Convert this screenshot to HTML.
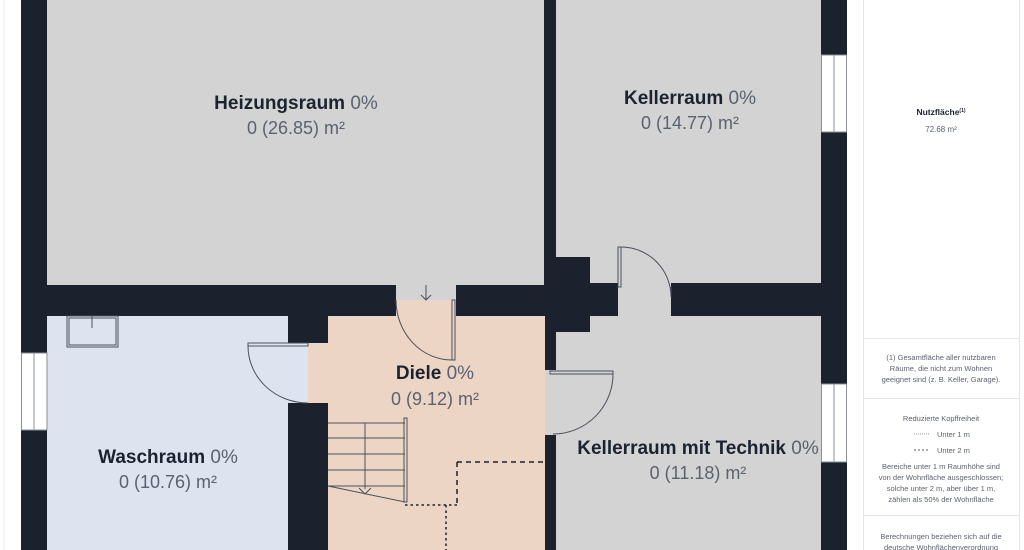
<!DOCTYPE html>
<html><head><meta charset="utf-8"><style>
html,body{margin:0;padding:0;background:#fff;}
svg{display:block;font-family:"Liberation Sans",sans-serif;}
.t{font-weight:bold;fill:#1c2330;font-size:19px;}
.p{fill:#5b6270;font-weight:normal;}
.a{fill:#5b6270;font-size:18px;}
.s{fill:#5b6270;font-size:7.5px;}
</style></head><body>
<svg width="1024" height="550" viewBox="0 0 1024 550" xmlns="http://www.w3.org/2000/svg">
<rect width="1024" height="550" fill="#fff"/>
<line x1="4" y1="0" x2="4" y2="550" stroke="#eee"/>
<!-- walls background -->
<rect x="21" y="0" width="826" height="550" fill="#1b222d"/>
<!-- rooms -->
<rect x="47" y="0" width="497" height="285" fill="#d3d3d3"/>
<rect x="556" y="0" width="265" height="283" fill="#d3d3d3"/>
<rect x="47" y="316" width="241" height="234" fill="#dde3ef"/>
<rect x="328" y="316" width="217" height="234" fill="#edd5c6"/>
<rect x="308" y="343" width="20" height="60" fill="#edd5c6"/>
<rect x="288" y="343" width="20" height="60" fill="#dde3ef"/>
<rect x="556" y="316" width="265" height="234" fill="#d3d3d3"/>
<rect x="545" y="370" width="11" height="65" fill="#d3d3d3"/>
<rect x="618" y="283" width="53" height="33" fill="#d3d3d3"/>
<rect x="396" y="285" width="60" height="15" fill="#d3d3d3"/>
<rect x="396" y="300" width="60" height="16" fill="#edd5c6"/>
<!-- pillar -->
<rect x="556" y="257" width="34" height="75" fill="#1b222d"/>
<!-- windows -->
<g fill="#fff" stroke="#8a8f98" stroke-width="1">
<rect x="21.5" y="353" width="12.5" height="77"/><rect x="34" y="353" width="13" height="77"/>
<rect x="821.5" y="55" width="12.5" height="77"/><rect x="834" y="55" width="12.5" height="77"/>
<rect x="821.5" y="384" width="12.5" height="78"/><rect x="834" y="384" width="12.5" height="78"/>
</g>
<!-- doors -->
<g fill="none" stroke="#4a505c" stroke-width="1">
<path d="M426 285 v15 M421 295 l5 5 5-5"/>
<rect x="452" y="300" width="3" height="60"/>
<path d="M396 300 A56 60 0 0 0 452 360"/>
<rect x="618" y="247" width="3" height="40"/>
<path d="M621 247 A50 50 0 0 1 671 297 v-10"/>
<rect x="550" y="371" width="63" height="3"/>
<path d="M613 374 A60 60 0 0 1 553 434"/>
<rect x="248" y="343" width="60" height="3"/>
<path d="M248 346 A60 57 0 0 0 308 403"/>
<rect x="67" y="316" width="51" height="31"/>
<rect x="69" y="318" width="47" height="27"/>
<path d="M92 316 v12"/>
<!-- stairs -->
<path d="M328 423 h77 M328 438 h77 M328 454 h77 M328 470 h77 M328 486 h77 M365 423 v66"/>
<rect x="404" y="418" width="3" height="84"/>
<path d="M328 486 L405 502 M359 488 l6 6 6-6"/>
</g>
<g fill="none" stroke="#1b222d" stroke-width="1.5">
<path d="M457 462 H545 M457 462 V505" stroke-dasharray="5,4"/>
<path d="M405 505 H457 M446 505 V550" stroke-dasharray="2.5,3"/>
</g>
<!-- labels -->
<text x="296" y="109" text-anchor="middle" class="t">Heizungsraum <tspan class="p">0%</tspan></text>
<text x="296" y="134" text-anchor="middle" class="a">0 (26.85) m²</text>
<text x="690" y="104" text-anchor="middle" class="t">Kellerraum <tspan class="p">0%</tspan></text>
<text x="690" y="129" text-anchor="middle" class="a">0 (14.77) m²</text>
<text x="435" y="379" text-anchor="middle" class="t">Diele <tspan class="p">0%</tspan></text>
<text x="435" y="405" text-anchor="middle" class="a">0 (9.12) m²</text>
<text x="168" y="463" text-anchor="middle" class="t">Waschraum <tspan class="p">0%</tspan></text>
<text x="168" y="488" text-anchor="middle" class="a">0 (10.76) m²</text>
<text x="698" y="454" text-anchor="middle" class="t">Kellerraum mit Technik <tspan class="p">0%</tspan></text>
<text x="698" y="479" text-anchor="middle" class="a">0 (11.18) m²</text>
<!-- panel -->
<g stroke="#e6e6e6" stroke-width="1">
<line x1="863.5" y1="0" x2="863.5" y2="550"/><line x1="1019.5" y1="0" x2="1019.5" y2="550"/>
<line x1="863" y1="338.5" x2="1020" y2="338.5"/><line x1="863" y1="398.5" x2="1020" y2="398.5"/><line x1="863" y1="515.5" x2="1020" y2="515.5"/>
</g>
<text x="941" y="115" text-anchor="middle" style="font-size:8.5px;font-weight:bold;fill:#1c2330">Nutzfläche<tspan style="font-size:5px" dy="-3">(1)</tspan></text>
<text x="941" y="132" text-anchor="middle" class="s" style="font-size:8px">72.68 m²</text>
<text x="941" y="360" text-anchor="middle" class="s">(1) Gesamtfläche aller nutzbaren</text>
<text x="941" y="371" text-anchor="middle" class="s">Räume, die nicht zum Wohnen</text>
<text x="941" y="382" text-anchor="middle" class="s">geeignet sind (z. B. Keller, Garage).</text>
<text x="941" y="421" text-anchor="middle" class="s">Reduzierte Kopffreiheit</text>
<line x1="914" y1="434" x2="930" y2="434" stroke="#999" stroke-dasharray="1,1"/>
<text x="937" y="437" class="s">Unter 1 m</text>
<line x1="914" y1="450" x2="930" y2="450" stroke="#555" stroke-dasharray="2,2"/>
<text x="937" y="453" class="s">Unter 2 m</text>
<text x="941" y="469" text-anchor="middle" class="s">Bereiche unter 1 m Raumhöhe sind</text>
<text x="941" y="480" text-anchor="middle" class="s">von der Wohnfläche ausgeschlossen;</text>
<text x="941" y="491" text-anchor="middle" class="s">solche unter 2 m, aber über 1 m,</text>
<text x="941" y="502" text-anchor="middle" class="s">zählen als 50% der Wohnfläche</text>
<text x="941" y="539" text-anchor="middle" class="s">Berechnungen beziehen sich auf die</text>
<text x="941" y="550" text-anchor="middle" class="s">deutsche Wohnflächenverordnung</text>
</svg>
</body></html>
